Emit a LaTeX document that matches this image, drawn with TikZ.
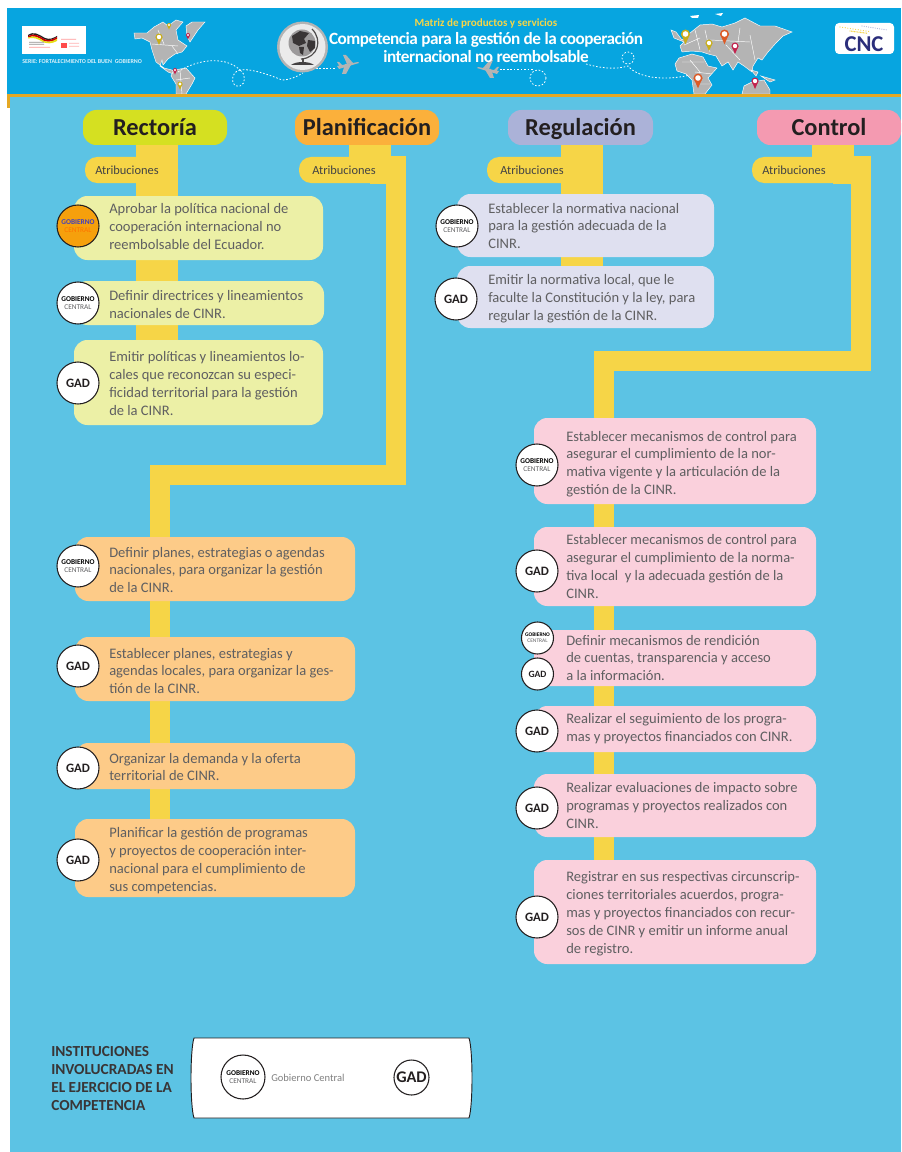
\documentclass[tikz,border=0pt]{standalone}
\usepackage{fontspec}
\setmainfont{Carlito}
\usetikzlibrary{calc}
\pgfdeclarelayer{bg}\pgfdeclarelayer{conn}\pgfsetlayers{bg,conn,main}
\definecolor{sky}{HTML}{5CC3E4}
\definecolor{hdr}{HTML}{07A5E0}
\definecolor{org}{HTML}{E5A823}
\definecolor{yel}{HTML}{F6D547}
\definecolor{mapg}{HTML}{B4B4B4}
\definecolor{bRect}{HTML}{D5E021}
\definecolor{bPlan}{HTML}{FBB03B}
\definecolor{bReg}{HTML}{ABB2D8}
\definecolor{bCtl}{HTML}{F49AB1}
\definecolor{lRect}{HTML}{ECF0A6}
\definecolor{lPlan}{HTML}{FDCB88}
\definecolor{lReg}{HTML}{DFE0F0}
\definecolor{lCtl}{HTML}{FAD0DC}
\definecolor{ink}{HTML}{231F20}
\definecolor{txt}{HTML}{5F5F61}
\definecolor{pinY}{HTML}{C9AE1B}
\definecolor{pinO}{HTML}{DD5A26}
\definecolor{pinR}{HTML}{C3224E}
\definecolor{navy}{HTML}{2B2E7B}
\tikzset{
 x=0.75pt,y=-0.75pt,
 headbox/.style={rectangle,rounded corners=10pt,inner sep=0pt,font=\fontsize{18.3}{20}\selectfont\bfseries,text=ink,text height=15pt,text depth=3pt},
 infobox/.style={rectangle,rounded corners=10pt,inner sep=0pt},
 pill/.style={rectangle,rounded corners=9pt,fill=yel,inner sep=0pt},
 pilltxt/.style={font=\fontsize{9.3}{11}\selectfont,text=txt!70!black,inner sep=0pt,anchor=west},
 boxtxt/.style={font=\fontsize{10.9}{13.4}\selectfont,text=txt,align=left,inner sep=0pt,anchor=west},
 badge/.style={circle,draw=ink,line width=0.8pt,fill=white,inner sep=0pt,align=center},
 gobbadge/.style={badge,font=\fontsize{5.5}{5.6}\selectfont},
 bar/.style={draw=yel,line width=15pt,line cap=butt,miter limit=10},
 widebar/.style={draw=yel,line width=31.5pt,line cap=butt},
 sidebar/.style={draw=yel,line width=20.25pt,line cap=butt},
 flight/.style={draw=white,line width=0.6pt,dash pattern=on 1.2pt off 1.4pt},
 land/.style={fill=mapg,draw=white,line width=0.35pt},
 bord/.style={draw=white,line width=0.35pt},
}
\newcommand{\headb}[7]{\node[headbox,fill=#6,minimum width={(#4-#2)*0.75pt},minimum height={(#5-#3)*0.75pt}] (#1) at ({(#2+#4)/2},{(#3+#5)/2}) {#7};}
\newcommand{\infob}[9]{\node[infobox,fill=#6,minimum width={(#4-#2)*0.75pt},minimum height={(#5-#3)*0.75pt}] (#1) at ({(#2+#4)/2},{(#3+#5)/2}) {};
 \node[boxtxt] (#1t) at (#7,{(#3+#5)/2+#8}) {#9};}
\newcommand{\gob}[4]{\node[gobbadge,minimum size={2*#4*0.75pt}] (#1) at (#2,#3) {\textbf{GOBIERNO}\\\textcolor{txt}{CENTRAL}};}
\newcommand{\gad}[4]{\node[badge,minimum size={2*#4*0.75pt},font=\fontsize{9.6}{10}\selectfont\bfseries,text=ink] (#1) at (#2,#3) {GAD};}
\newcommand{\pin}[5]{\fill[#4] (#1,#2) circle ({#3}) ;\fill[#4] ({#1-#3},#2) -- ({#1+#3},#2) -- (#1,{#2+2.3*#3}) -- cycle;\fill[#5] (#1,#2) circle ({0.62*#3});}
\begin{document}
\begin{tikzpicture}
\useasboundingbox (0,0) rectangle (901,1152);
% ------- background and header
\begin{pgfonlayer}{bg}
\fill[white] (0,0) rectangle (901,1152);
\fill[org] (7,90) rectangle (12,108);
\fill[hdr] (7,8) rectangle (901,94);
\fill[sky] (10,97) rectangle (901,1152);
\fill[org] (7,94) rectangle (901,97);
\end{pgfonlayer}
% maps: Americas
\begin{scope}
\clip (0,8) rectangle (901,94);
\path[land] (134,33) -- (147,33) -- (154,27) -- (163,22) -- (168,26) -- (176,20) -- (183,22) -- (176,30) -- (178,40) -- (187,46) -- (182,52) -- (175,54) -- (168,59) -- (163,65) -- (162,60) -- (160,66) -- (168,72) -- (176,75) -- (172,70) -- (164,68) -- (156,62) -- (152,50) -- (150,42) -- (142,38) -- (135,39) -- cycle;
\path[land] (186,26) -- (192,22) -- (205,22) -- (198,30) -- (190,42) -- (187,36) -- cycle;
\path[land] (174,70) -- (186,68) -- (195,78) -- (192,84) -- (186,94) -- (176,94) -- (176,84) -- (171,76) -- cycle;
\draw[bord] (152,44) -- (178,46) (172,46) -- (178,54) (158,30)--(164,44) (176,80)--(190,78) (180,70)--(182,94);
% maps: Eurasia, Africa, Australia
\path[land] (671,30) -- (676,32) -- (682,40) -- (690,33) -- (700,25) -- (712,24) -- (722,27) -- (735,23) -- (745,18) -- (760,26) -- (775,26) -- (792,32) -- (783,36) -- (776,43) -- (768,52) -- (762,60) -- (758,58) -- (753,66) -- (752,72) -- (744,66) -- (738,62) -- (733,70) -- (728,62) -- (722,66) -- (716,56) -- (708,54) -- (702,52) -- (692,51) -- (682,52) -- (680,46) -- (684,42) -- (674,38) -- cycle;
\path[land] (679,58) -- (692,54) -- (703,57) -- (708,66) -- (717,68) -- (708,78) -- (712,85) -- (705,94) -- (694,94) -- (692,80) -- (686,74) -- (677,71) -- (675,64) -- cycle;
\path[land] (744,86) -- (752,82) -- (764,80) -- (770,90) -- (770,94) -- (742,94) -- cycle;
\path[land] (751,70) -- (758,72) -- (756,76) -- cycle;
\path[land] (761,76) -- (775,80) -- (770,82) -- cycle;
\fill[white] (690,16) -- (699,15) -- (698,18) -- (692,18) -- cycle;
\fill[white] (715,14) -- (723,13) -- (721,16) -- cycle;
\draw[bord] (690,60)--(700,72) (682,62)--(704,62) (695,72)--(712,74) (694,84)--(710,84) (684,45)--(700,38) (695,30)--(700,50) (705,30)--(710,52) (710,40)--(750,42) (726,45)--(740,60) (750,35)--(755,60) (740,28)--(738,42);
\end{scope}
\pin{685.5}{34}{4.5}{pinY}{white}
\pin{709}{43}{3.5}{pinY}{white}
\pin{724.5}{34}{4.5}{pinO}{white}
\pin{735}{46}{3.5}{pinR}{white}
\pin{698}{78}{4.5}{pinO}{white}
\pin{755}{81}{3.5}{pinR}{white}
\pin{159}{37}{3.5}{pinY}{white}
\pin{169}{25}{2}{pinY}{white}
\pin{188}{35}{2}{pinR}{white}
\pin{175}{70}{2}{pinR}{white}
\pin{180}{84}{2.5}{pinY}{white}
% flight paths
\draw[flight] (178,72) .. controls (195,60) and (225,55) .. (240,70) .. controls (250,68) and (270,75) .. (282,80) .. controls (290,80) and (298,76) .. (303,73);
\draw[flight] (316,68) -- (335,68);
\draw[flight] (240,70) .. controls (230,72) and (230,88) .. (240,86) .. controls (246,84) and (246,74) .. (240,70);
\draw[flight] (500,69) -- (533,69);
\draw[flight] (538,78) circle (8);
\draw[flight] (586,64) .. controls (600,68) and (615,70) .. (628,66) .. controls (640,80) and (670,80) .. (690,75);
\draw[flight] (628,58) circle (6);
% globe
\fill[mapg] (302.5,47) circle (25.5);
\fill[white!92!black] (302.5,47) circle (23);
\fill[ink!45] (302,43) circle (13.5);
\fill[ink!90] (292,36) -- (300,31) -- (309,33) -- (304,39) -- (306,43) -- (299,46) -- (293,43) -- cycle;
\fill[ink!90] (299,47) -- (304,47) -- (303,55) -- (300,53) -- cycle;
\fill[ink!90] (308,40) -- (315,41) -- (315,48) -- (310,52) -- (307,46) -- cycle;
\draw[ink!80,line width=0.9pt] (312,29) .. controls (323,40) and (318,58) .. (301,59);
\draw[ink!80,line width=1.4pt] (303,59) -- (303,62);
\fill[ink!85] (291,65) .. controls (296,61) and (309,61) .. (314,65) -- cycle;
% planes
\begin{scope}[shift={(348,64)}]
\fill[mapg] (-11,2) -- (10,-2) -- (11,-1) -- (-9,5) -- cycle;
\fill[mapg] (-3,0) -- (-6,10) -- (-2,10) -- (4,-1) -- cycle;
\fill[mapg] (-1,0) -- (-5,-9) -- (-2,-9) -- (5,-1) -- cycle;
\fill[mapg] (-8,3) -- (-11,-2) -- (-9,-2) -- (-5,2) -- cycle;
\end{scope}
\begin{scope}[shift={(488,69)},xscale=-1]
\fill[mapg] (-11,2) -- (10,-2) -- (11,-1) -- (-9,5) -- cycle;
\fill[mapg] (-3,0) -- (-6,9) -- (-2,9) -- (4,-1) -- cycle;
\fill[mapg] (-1,0) -- (-5,-9) -- (-2,-9) -- (5,-1) -- cycle;
\fill[mapg] (-8,3) -- (-11,-2) -- (-9,-2) -- (-5,2) -- cycle;
\end{scope}
% logos
\fill[white] (22,26) rectangle (86,54);
\fill[ink] (28,35) .. controls (34,31) and (38,34) .. (45,38) .. controls (50,40) and (53,38) .. (57,36) -- (57,37) .. controls (52,40) and (48,41) .. (44,39) .. controls (38,35) and (34,33) .. (28,36) -- cycle;
\fill[red!80!black] (28,36) .. controls (34,33) and (38,35) .. (44,39) .. controls (48,41) and (52,40) .. (57,37) -- (57,39) .. controls (52,42) and (48,42) .. (44,41) .. controls (38,37) and (34,35) .. (28,37.5) -- cycle;
\fill[yellow!90!black] (28,37.5) .. controls (34,35) and (38,37) .. (44,41) .. controls (48,42) and (52,42) .. (57,39) -- (57,41) .. controls (52,44) and (46,44) .. (42,41.5) .. controls (38,39) and (34,37) .. (28,38.5) -- cycle;
\fill[ink!50] (29,42) rectangle (44,42.7) (29,44) rectangle (44,44.7);
\fill[red!40] (29,47) rectangle (50,47.7) (61,39) rectangle (76,39.7);
\fill[red!70] (61,43) rectangle (67,48);
\fill[red!30] (69,43) rectangle (79,43.7) (69,46) rectangle (79,46.7);
\node[inner sep=0pt,anchor=west,font=\fontsize{4.5}{5}\selectfont\bfseries,text=white!85!hdr] (serie) at (22,62) {SERIE: FORTALECIMIENTO DEL BUEN\ \ GOBIERNO};
\node[rectangle,rounded corners=3pt,fill=white,minimum width=44.25pt,minimum height=23.25pt,inner sep=0pt] (cnclogo) at (864.5,38.5) {};
\node[inner sep=0pt,font=\fontsize{17}{18}\selectfont\bfseries,text=navy] (cnc) at (864,44) {CNC};
\foreach \i in {0,...,11}{\fill[yel] ({840+\i*2.6},{27+\i*0.4}) circle (0.6);\fill[yel] ({850+\i*1.5},{31+\i*0.2}) circle (0.7);\fill[bReg] ({862+\i*2.2},{26+\i*0.35}) circle (0.6);}
% title
\node[inner sep=0pt,font=\fontsize{8.3}{10}\selectfont\bfseries,text=yel] (sup) at (486,23.5) {Matriz de productos y servicios};
\node[inner sep=0pt,font=\fontsize{12.9}{14.2}\selectfont\bfseries\addfontfeature{LetterSpace=-2.8},text=white,align=center] (title) at (486,47.5) {Competencia para la gestión de la cooperación\\internacional no reembolsable};
% ------- heads
\headb{hR}{83}{110}{227}{145}{bRect}{Rectoría}
\headb{hP}{295}{110}{439}{145}{bPlan}{Planificación}
\headb{hG}{508}{110}{653}{145}{bReg}{Regulación}
\headb{hC}{757}{110}{901}{145}{bCtl}{Control}
% ------- pills
\node[pill,minimum width=69.75pt,minimum height=19.5pt] (pR) at (131.5,170) {};
\node[pilltxt] (pRt) at (95,170) {Atribuciones};
\node[pill,minimum width=69pt,minimum height=19.5pt] (pP) at (345,170) {};
\node[pilltxt] (pPt) at (312,170) {Atribuciones};
\node[pill,minimum width=69pt,minimum height=19.5pt] (pG) at (533,170) {};
\node[pilltxt] (pGt) at (500,170) {Atribuciones};
\node[pill,minimum width=69pt,minimum height=19.5pt] (pC) at (798,170) {};
\node[pilltxt] (pCt) at (762,170) {Atribuciones};
% ------- Rectoría
\infob{r1}{74}{196}{323}{260}{lRect}{109}{-1.5}{Aprobar la política nacional de\\cooperación internacional no\\reembolsable del Ecuador.}
\infob{r2}{74}{281}{324}{325}{lRect}{109}{1.5}{Definir directrices y lineamientos\\nacionales de CINR.}
\infob{r3}{74}{340}{323}{425}{lRect}{109}{1}{Emitir políticas y lineamientos lo-\\cales que reconozcan su especi-\\ficidad territorial para la gestión\\de la CINR.}
\node[gobbadge,draw=ink,fill=org!40!orange!85!yellow,minimum size=31.5pt] (cR1) at (78,226) {\textbf{\textcolor{blue!50!gray}{GOBIERNO}}\\\textcolor{orange!90!red}{CENTRAL}};
\gob{cR2}{78}{303}{21}
\gad{cR3}{78}{383}{21}
% ------- Planificación
\infob{p1}{75}{537}{355}{601}{lPlan}{109}{1}{Definir planes, estrategias o agendas\\nacionales, para organizar la gestión\\de la CINR.}
\infob{p2}{75}{637}{355}{701}{lPlan}{109}{2}{Establecer planes, estrategias y\\agendas locales, para organizar la ges-\\tión de la CINR.}
\infob{p3}{75}{743}{355}{789}{lPlan}{109}{1}{Organizar la demanda y la oferta\\territorial de CINR.}
\infob{p4}{75}{819}{355}{897}{lPlan}{109}{2.5}{Planificar la gestión de programas\\y proyectos de cooperación inter-\\nacional para el cumplimiento de\\sus competencias.}
\gob{cP1}{78}{566}{21}
\gad{cP2}{78}{666}{21}
\gad{cP3}{78}{768}{21}
\gad{cP4}{78}{860}{21}
% ------- Regulación
\infob{g1}{457}{194}{714}{257}{lReg}{488}{0.5}{Establecer la normativa nacional\\para la gestión adecuada de la\\CINR.}
\infob{g2}{457}{266}{714}{328}{lReg}{488}{1.5}{Emitir la normativa local, que le\\faculte la Constitución y la ley, para\\regular la gestión de la CINR.}
\gob{cG1}{457}{226}{21}
\gad{cG2}{456}{299}{21}
% ------- Control
\infob{c1}{534}{418}{816}{504}{lCtl}{566}{3}{Establecer mecanismos de control para\\asegurar el cumplimiento de la nor-\\mativa vigente y la articulación de la\\gestión de la CINR.}
\infob{c2}{534}{527}{816}{606}{lCtl}{566}{0}{Establecer mecanismos de control para\\asegurar el cumplimiento de la norma-\\tiva local\ \ y la adecuada gestión de la\\CINR.}
\infob{c3}{534}{630}{816}{686}{lCtl}{566}{0}{Definir mecanismos de rendición\\de cuentas, transparencia y acceso\\a la información.}
\infob{c4}{534}{706}{816}{752}{lCtl}{566}{0}{Realizar el seguimiento de los progra-\\mas y proyectos financiados con CINR.}
\infob{c5}{534}{774}{816}{837}{lCtl}{566}{0}{Realizar evaluaciones de impacto sobre\\programas y proyectos realizados con\\CINR.}
\infob{c6}{534}{860}{816}{964}{lCtl}{566}{1.5}{Registrar en sus respectivas circunscrip-\\ciones territoriales acuerdos, progra-\\mas y proyectos financiados con recur-\\sos de CINR y emitir un informe anual\\de registro.}
\gob{cC1}{537}{465}{21}
\gad{cC2}{537}{571}{21}
\node[badge,minimum size=24pt,font=\fontsize{4.1}{4.2}\selectfont] (cC3a) at (537.5,638) {\textbf{GOBIERNO}\\\textcolor{txt}{CENTRAL}};
\node[badge,minimum size=24pt,font=\fontsize{7.2}{8}\selectfont\bfseries,text=ink] (cC3b) at (537.5,674) {GAD};
\gad{cC4}{537}{731}{21}
\gad{cC5}{537}{808}{21}
\gad{cC6}{537}{917}{21}
% ------- connectors
\coordinate (xR) at (157,0);
\coordinate (xP) at (370,0);
\coordinate (xP2) at (396,0);
\coordinate (xP3) at (160,0);
\coordinate (xG) at (582,0);
\coordinate (xC) at (833,0);
\coordinate (xC2) at (861,0);
\coordinate (xC3) at (604,0);
\coordinate (yP) at (0,475);
\coordinate (yC) at (0,361);
\begin{pgfonlayer}{conn}
\draw[widebar] (xR |- hR.south) -- (xR |- r3.north);
\draw[widebar] (xP |- hP.south) -- (xP |- pP.south);
\draw[sidebar] (xP |- pP) -- (406,170);
\draw[bar] (xP2 |- pP.north) -- (xP2 |- yP) -- (xP3 |- yP) -- (xP3 |- p4.north);
\draw[widebar] (xG |- hG.south) -- (xG |- g2.north);
\draw[widebar] (xC |- hC.south) -- (xC |- pC.south);
\draw[sidebar] (xC |- pC) -- (871,170);
\draw[bar] (xC2 |- pC.north) -- (xC2 |- yC) -- (xC3 |- yC) -- (xC3 |- c6.north);
\end{pgfonlayer}
% ------- legend
\draw[ink,line width=0.7pt,fill=white] (194,1038) -- (469,1038) .. controls (473,1050) and (473,1106) .. (469,1118) -- (194,1118) .. controls (190,1106) and (190,1050) .. (194,1038) -- cycle;
\node[inner sep=0pt,anchor=west,align=left,font=\fontsize{11.5}{13.5}\selectfont\bfseries,text=ink!90] (legt) at (51,1079) {INSTITUCIONES\\INVOLUCRADAS EN\\EL EJERCICIO DE LA\\COMPETENCIA};
\node[gobbadge,minimum size=33pt] (lgob) at (243,1077) {\textbf{GOBIERNO}\\\textcolor{txt}{CENTRAL}};
\node[inner sep=0pt,anchor=west,font=\fontsize{7.9}{10}\selectfont,text=gray] (lgobt) at (271,1077.5) {Gobierno Central};
\node[badge,minimum size=26.25pt,font=\fontsize{12.2}{13}\selectfont\bfseries,text=ink] (lgad) at (411.5,1077.5) {GAD};
\end{tikzpicture}
\end{document}
